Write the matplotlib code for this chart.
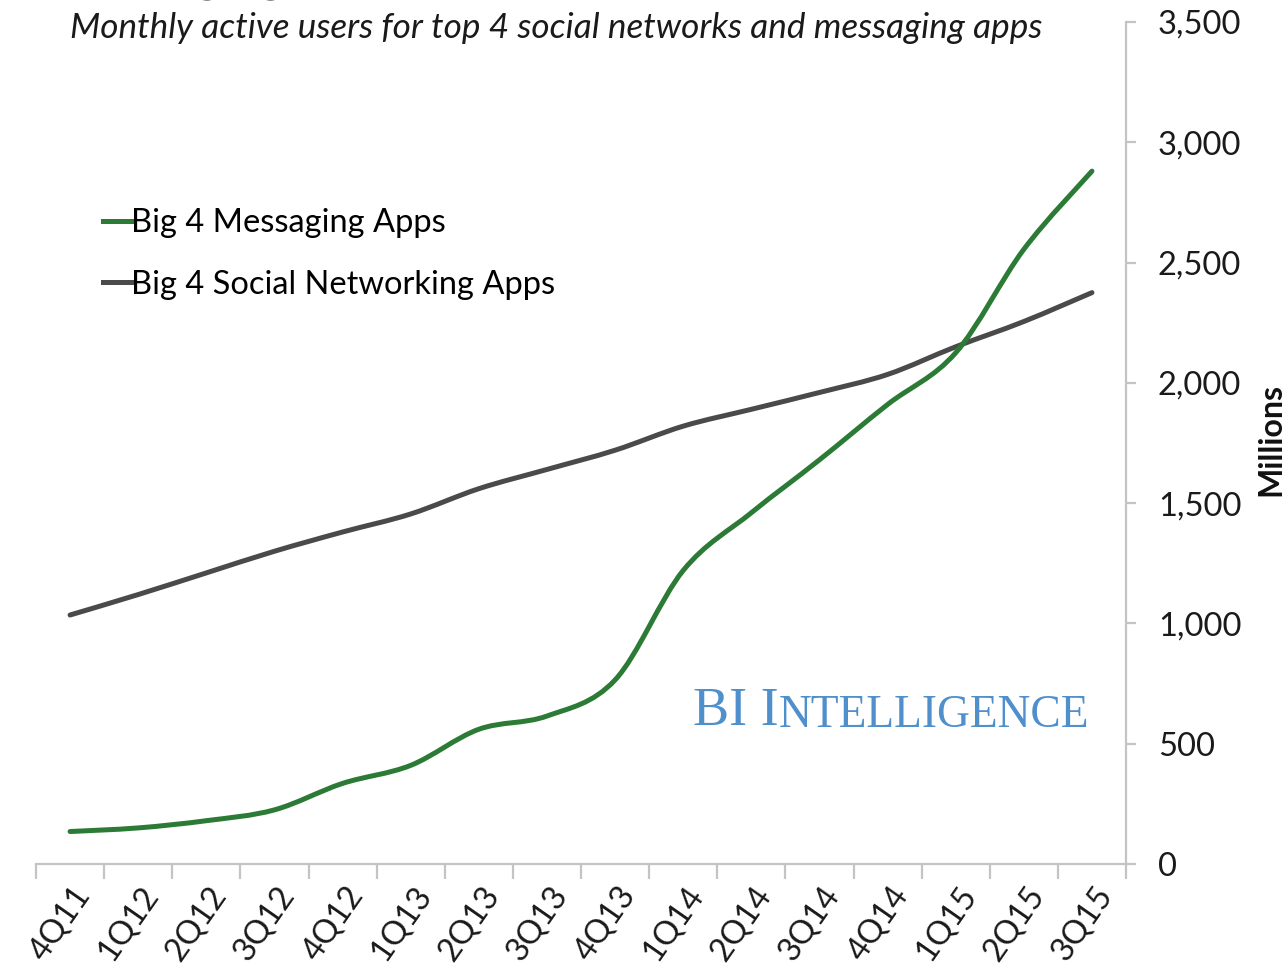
import matplotlib
matplotlib.use("Agg")
import matplotlib.pyplot as plt
import numpy as np
from matplotlib.path import Path
from matplotlib.patches import PathPatch
from matplotlib.lines import Line2D
from matplotlib.ticker import FuncFormatter
import matplotlib.transforms as mtrans

#============================================================
quarters = ["4Q11", "1Q12", "2Q12", "3Q12", "4Q12", "1Q13", "2Q13", "3Q13",
            "4Q13", "1Q14", "2Q14", "3Q14", "4Q14", "1Q15", "2Q15", "3Q15"]
messaging = [135, 150, 180, 225, 335, 410, 560, 615,
             765, 1220, 1460, 1680, 1910, 2125, 2555, 2880]
social = [1035, 1120, 1210, 1300, 1380, 1455, 1560, 1640,
          1720, 1820, 1890, 1960, 2035, 2150, 2255, 2375]
y_ticks = [0, 500, 1000, 1500, 2000, 2500, 3000, 3500]
#============================================================

FONT = ["Lato", "DejaVu Sans"]
plt.rcParams["font.family"] = FONT

GREEN = "#2b7a35"
GREY = "#4a4a4a"
AXIS = "#c4c4c4"
FS = 23.5


def smooth_path(xs, ys):
    # excel style smoothed line: cubic bezier through every point
    pts = np.column_stack([xs, ys]).astype(float)
    n = len(pts)
    verts = [pts[0]]
    codes = [Path.MOVETO]
    for i in range(n - 1):
        p0 = pts[i - 1] if i > 0 else pts[i]
        p1 = pts[i]
        p2 = pts[i + 1]
        p3 = pts[i + 2] if i + 2 < n else pts[i + 1]
        verts += [p1 + (p2 - p0) / 6.0, p2 - (p3 - p1) / 6.0, p2]
        codes += [Path.CURVE4] * 3
    return Path(verts, codes)


fig = plt.figure(figsize=(12.85, 9.68), dpi=100)
ax = fig.add_axes([36 / 1285, 1 - 864 / 968, 1090 / 1285, 842 / 968])

x = np.arange(len(quarters))
for vals, col in [(social, GREY), (messaging, GREEN)]:
    ax.add_patch(PathPatch(smooth_path(x, vals), fill=False, edgecolor=col,
                           lw=3.6, capstyle="round", joinstyle="round"))

ax.set_xlim(-0.5, len(quarters) - 0.5)
ax.set_ylim(0, 3500)

for s in ["left", "top"]:
    ax.spines[s].set_visible(False)
for s in ["right", "bottom"]:
    ax.spines[s].set_color(AXIS)
    ax.spines[s].set_linewidth(1.6)

# y axis on the right
ax.yaxis.tick_right()
ax.set_yticks(y_ticks)
ax.yaxis.set_major_formatter(FuncFormatter(lambda v, p: "{:,.0f}".format(v)))
ax.tick_params(axis="y", direction="out", length=7, width=1.6, color=AXIS,
               labelsize=FS, pad=16, labelcolor="#1a1a1a")

# x axis: tick marks between categories, labels in the middle
ax.set_xticks(x)
ax.set_xticks(np.arange(len(quarters) + 1) - 0.5, minor=True)
ax.set_xticklabels(quarters)
ax.tick_params(axis="x", which="major", length=0, labelsize=FS, pad=18,
               labelcolor="#1a1a1a")
ax.tick_params(axis="x", which="minor", direction="out", length=11,
               width=1.6, color=AXIS)
shift = mtrans.ScaledTranslation(14 / 100, 0, fig.dpi_scale_trans)
for lab in ax.get_xticklabels():
    lab.set_rotation(55)
    lab.set_ha("right")
    lab.set_va("center")
    lab.set_rotation_mode("anchor")
    lab.set_transform(lab.get_transform() + shift)

fig.text(1271 / 1285, 1 - 440 / 968, "Millions", rotation=90, ha="center",
         va="center", fontsize=23, fontweight="bold", color="#111111")

# title (cut off at the top edge, as in the source) and subtitle
fig.text(60 / 1285, 1 + 9 / 968, "Messaging Apps Have Surpassed Social Networks",
         fontsize=34, fontweight="bold", ha="left", va="baseline", color="#111111")
fig.text(70 / 1285, 1 - 28 / 968,
         "Monthly active users for top 4 social networks and messaging apps",
         fontsize=25.3, style="italic", ha="left", va="center", color="#1a1a1a")

handles = [Line2D([], [], color=GREEN, lw=3.6),
           Line2D([], [], color=GREY, lw=3.6)]
ax.legend(handles, ["Big 4 Messaging Apps", "Big 4 Social Networking Apps"],
          loc="upper left", bbox_to_anchor=(103 / 1285, 1 - 208 / 968),
          bbox_transform=fig.transFigure, frameon=False, fontsize=FS,
          handlelength=0.85, handletextpad=0.0, labelspacing=0.97,
          borderpad=0, borderaxespad=0)

# BI Intelligence mark in small caps
wm = ax.text(0.603, 0.165, "BI I", transform=ax.transAxes, fontsize=39,
             family=["Liberation Serif", "DejaVu Serif"], color="#4f8fcc",
             ha="left", va="baseline")
fig.canvas.draw()
bb = wm.get_window_extent()
ax.annotate("NTELLIGENCE", xy=(bb.x1, bb.y0), xycoords="figure pixels",
            xytext=(0, 0), textcoords="offset points", fontsize=32.8,
            family=["Liberation Serif", "DejaVu Serif"], color="#4f8fcc",
            ha="left", va="bottom")

fig.savefig("out.png", dpi=100, facecolor="white")
